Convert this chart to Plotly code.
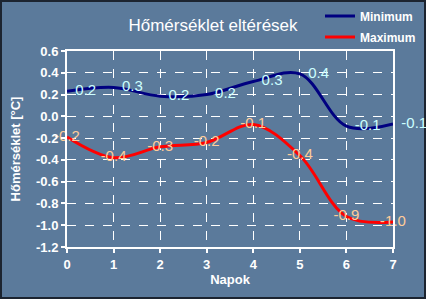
import plotly.graph_objects as go

napok = [0, 1, 2, 3, 4, 5, 6, 7]
minimum = [0.23, 0.265, 0.185, 0.2, 0.32, 0.39, -0.09, -0.07]
maximum = [-0.19, -0.38, -0.28, -0.24, -0.075, -0.36, -0.92, -0.97]
min_labels = ["0.2", "0.3", "0.2", "0.2", "0.3", "0.4", "-0.1", "-0.1"]
max_labels = ["-0.2", "-0.4", "-0.3", "-0.2", "-0.1", "-0.4", "-0.9", "-1.0"]
y_ticks = [0.6, 0.4, 0.2, 0.0, -0.2, -0.4, -0.6, -0.8, -1.0, -1.2]
y_ticktext = ["0.6", "0.4", "0.2", "0.0", "-0.2", "-0.4", "-0.6", "-0.8", "-1.0", "-1.2"]

BG = "rgb(91,122,155)"
FONT = "Liberation Sans, Arial, sans-serif"

W, H = 426, 299
ml, mr, mt, mb = 67, 33, 51, 52
pw, ph = W - ml - mr, H - mt - mb

fig = go.Figure()
fig.add_trace(go.Scatter(
    x=napok, y=minimum, name="Minimum", mode="lines+text", legend="legend",
    line=dict(color="#000080", width=3, shape="spline", smoothing=1),
    text=min_labels, texttemplate="  %{text}", textposition="middle right",
    textfont=dict(color="#CCFFFF", size=15, family=FONT),
    cliponaxis=False,
))
fig.add_trace(go.Scatter(
    x=napok, y=maximum, name="Maximum", mode="lines+text", legend="legend2",
    line=dict(color="#FF0000", width=3, shape="spline", smoothing=1),
    text=max_labels, textposition="middle center",
    textfont=dict(color="#FFCC99", size=15, family=FONT),
    cliponaxis=False,
))

legfont = dict(size=12, color="white", family=FONT, weight="bold")


def leg(ypx):
    return dict(x=(320 - ml) / pw, y=1 + (mt - ypx) / ph, xanchor="left", yanchor="middle",
                bgcolor="rgba(0,0,0,0)", font=legfont, itemwidth=30)


fig.update_layout(
    width=W, height=H,
    margin=dict(l=ml, r=mr, t=mt, b=mb, autoexpand=False),
    paper_bgcolor=BG, plot_bgcolor=BG,
    font=dict(family=FONT, color="white", size=12),
    title=dict(text="Hőmérséklet eltérések", x=213 / W, xanchor="center",
               y=1 - 25 / H, yanchor="middle",
               font=dict(size=17, color="white", family=FONT)),
    showlegend=True,
    legend=leg(16),
    legend2=leg(37),
    xaxis=dict(range=[0, 7], tickvals=napok, showline=True, linecolor="white", linewidth=2,
               mirror=True, ticks="outside", tickcolor="white", ticklen=4, tickwidth=2,
               showgrid=True, gridcolor="white", griddash="dash", gridwidth=1,
               zeroline=False, automargin=False,
               tickfont=dict(size=13, color="white", family=FONT, weight="bold"),
               title=dict(text="Napok", font=dict(size=13, color="white", family=FONT, weight="bold"),
                          standoff=2)),
    yaxis=dict(range=[-1.2, 0.6], tickvals=y_ticks, ticktext=y_ticktext, showline=True,
               linecolor="white", linewidth=2, mirror=True, ticks="outside",
               tickcolor="white", ticklen=4, tickwidth=2,
               showgrid=True, gridcolor="white", griddash="dash", gridwidth=1,
               zeroline=False, automargin=False,
               tickfont=dict(size=13, color="white", family=FONT, weight="bold"),
               title=dict(text="Hőmérséklet [°C]", font=dict(size=13, color="white", family=FONT, weight="bold"),
                          standoff=12)),
    shapes=[dict(type="rect", xref="paper", yref="paper",
                 x0=-(ml - 1) / pw, x1=1 + (mr - 1) / pw,
                 y0=-(mb - 1) / ph, y1=1 + (mt - 1) / ph,
                 line=dict(color="#1c2430", width=2), layer="below")],
)

fig.write_html("out.html")
